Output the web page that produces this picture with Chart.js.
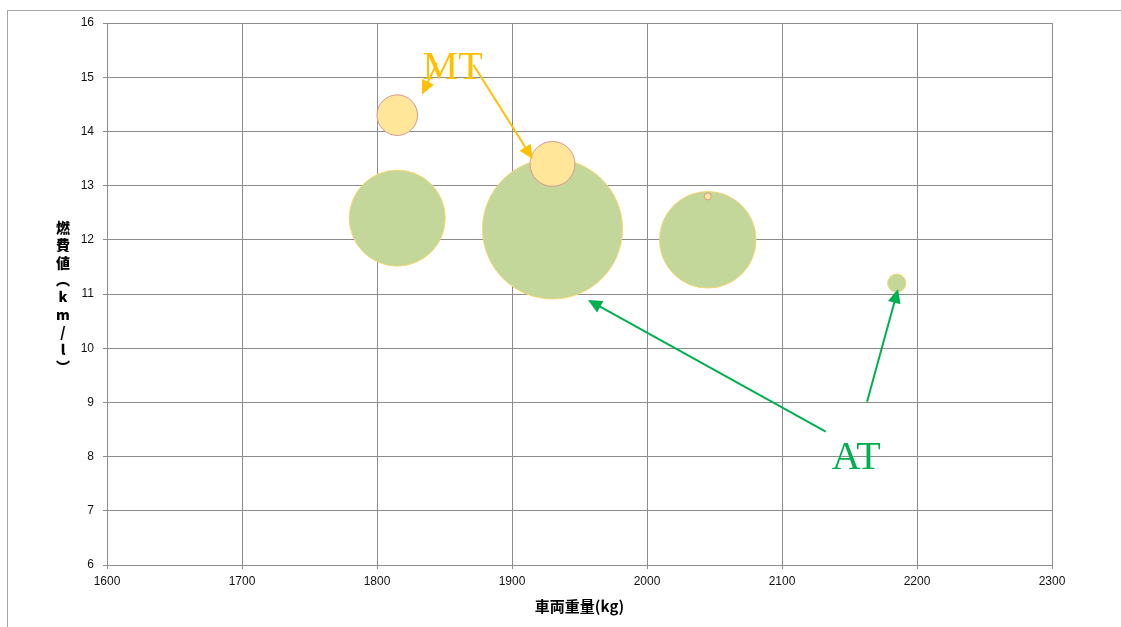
<!DOCTYPE html>
<html>
<head>
<meta charset="utf-8">
<script src="https://cdn.jsdelivr.net/npm/chart.js@4/dist/chart.umd.min.js"></script>
<style>
  body { margin: 0; background: #fff; overflow: hidden; }
  #frame { position: absolute; left: 7px; top: 10px; width: 1200px; height: 700px;
           border-top: 1px solid #a6a6a6; border-left: 1px solid #a6a6a6; }
  #chart { position: absolute; left: 0; top: 0; }
</style>
</head>
<body>
<div id="frame"></div>
<canvas id="chart" width="1121" height="627"></canvas>
<script>
// AT vehicles: weight (kg), fuel economy (km/l), bubble size
const atWeight = [1815, 1930, 2045, 2185];
const atMileage = [12.4, 12.2, 12.0, 11.2];
const atSize = [470, 1000, 476, 17];

// MT vehicles
const mtWeight = [1815, 1930, 2045];
const mtMileage = [14.3, 13.4, 12.8];
const mtSize = [84, 103, 2.5];

const xTicks = [1600, 1700, 1800, 1900, 2000, 2100, 2200, 2300];
const yTicks = [6, 7, 8, 9, 10, 11, 12, 13, 14, 15, 16];

const xTitle = "車両重量(kg)";
const yTitleChars = ["燃", "費", "値", "︵", "k", "m", "/", "l", "︶"];

// annotation labels and arrows, in data coordinates
const labels = [
  { text: "MT", x: 1856, y: 14.96, color: "#FFC000" },
  { text: "AT", x: 2155, y: 7.77, color: "#00B050" },
];
const arrows = [
  { from: [1844.4, 15.26], to: [1833.3, 14.68], color: "#FFC000" },
  { from: [1871.4, 15.23], to: [1915.3, 13.49], color: "#FFC000" },
  { from: [2132.4, 8.46], to: [1956.3, 10.89], color: "#00B050" },
  { from: [2163.0, 9.01], to: [2185.9, 11.09], color: "#00B050" },
];

const maxSize = Math.max(...atSize, ...mtSize);
const toRadius = (s) => 70 * Math.sqrt(s / maxSize);

const points = (xs, ys, ss) => xs.map((x, i) => ({ x: x, y: ys[i], r: toRadius(ss[i]) }));

const gridColor = "#8c8c8c";
const tickFont = { family: "'Liberation Sans', Arial, sans-serif", size: 12 };

const overlay = {
  id: "overlay",
  afterDatasetsDraw(chart) {
    const ctx = chart.ctx;
    const xs = chart.scales.x, ys = chart.scales.y;
    const area = chart.chartArea;
    ctx.save();

    // arrows
    arrows.forEach((a) => {
      const x1 = xs.getPixelForValue(a.from[0]), y1 = ys.getPixelForValue(a.from[1]);
      const x2 = xs.getPixelForValue(a.to[0]), y2 = ys.getPixelForValue(a.to[1]);
      const ang = Math.atan2(y2 - y1, x2 - x1);
      const len = 14, half = 6.5;
      ctx.strokeStyle = a.color;
      ctx.fillStyle = a.color;
      ctx.lineWidth = 2;
      ctx.beginPath();
      ctx.moveTo(x1, y1);
      ctx.lineTo(x2 - Math.cos(ang) * len * 0.8, y2 - Math.sin(ang) * len * 0.8);
      ctx.stroke();
      const bx = x2 - Math.cos(ang) * len, by = y2 - Math.sin(ang) * len;
      ctx.beginPath();
      ctx.moveTo(x2, y2);
      ctx.lineTo(bx + Math.sin(ang) * half, by - Math.cos(ang) * half);
      ctx.lineTo(bx - Math.sin(ang) * half, by + Math.cos(ang) * half);
      ctx.closePath();
      ctx.fill();
    });

    // big labels
    ctx.font = "40px 'Liberation Serif', 'Times New Roman', serif";
    ctx.textAlign = "center";
    ctx.textBaseline = "alphabetic";
    labels.forEach((l) => {
      ctx.fillStyle = l.color;
      ctx.fillText(l.text, xs.getPixelForValue(l.x), ys.getPixelForValue(l.y));
    });

    // axis titles
    ctx.fillStyle = "#000";
    ctx.font = "bold 15px 'Noto Sans CJK JP', sans-serif";
    ctx.textBaseline = "middle";
    ctx.fillText(xTitle, (area.left + area.right) / 2, 606);

    ctx.font = "900 14px 'Noto Sans CJK JP', sans-serif";
    const step = 17.4;
    const cy = (area.top + area.bottom) / 2 + 3;
    const y0 = cy - step * (yTitleChars.length - 1) / 2;
    yTitleChars.forEach((c, i) => {
      ctx.fillText(c, 63, y0 + i * step);
    });
    ctx.restore();
  },
};

new Chart(document.getElementById("chart"), {
  type: "bubble",
  data: {
    datasets: [
      {
        label: "MT",
        data: points(mtWeight, mtMileage, mtSize),
        backgroundColor: "#FFE699",
        borderColor: "#D99694",
        borderWidth: 1,
        order: 0,
      },
      {
        label: "AT",
        data: points(atWeight, atMileage, atSize),
        backgroundColor: "#C4D79B",
        borderColor: "#F5D66E",
        borderWidth: 1,
        order: 1,
      },
    ],
  },
  options: {
    responsive: false,
    animation: false,
    layout: { autoPadding: false, padding: { top: 23, right: 69, left: 0, bottom: 0 } },
    plugins: {
      legend: { display: false },
      tooltip: { enabled: false },
    },
    scales: {
      x: {
        type: "linear",
        min: 1600,
        max: 2300,
        afterFit: (s) => { s.height = 62; },
        afterBuildTicks: (s) => { s.ticks = xTicks.map((v) => ({ value: v })); },
        grid: { color: gridColor, tickLength: 4, lineWidth: 1 },
        border: { color: gridColor },
        ticks: { font: tickFont, color: "#111", padding: 5, maxRotation: 0, callback: (v) => String(v) },
      },
      y: {
        type: "linear",
        min: 6,
        max: 16,
        afterFit: (s) => { s.width = 107; },
        afterBuildTicks: (s) => { s.ticks = yTicks.map((v) => ({ value: v })); },
        grid: { color: gridColor, tickLength: 4, lineWidth: 1 },
        border: { color: gridColor },
        ticks: { font: tickFont, color: "#111", padding: 9, callback: (v) => String(v) },
      },
    },
  },
  plugins: [overlay],
});
</script>
</body>
</html>
